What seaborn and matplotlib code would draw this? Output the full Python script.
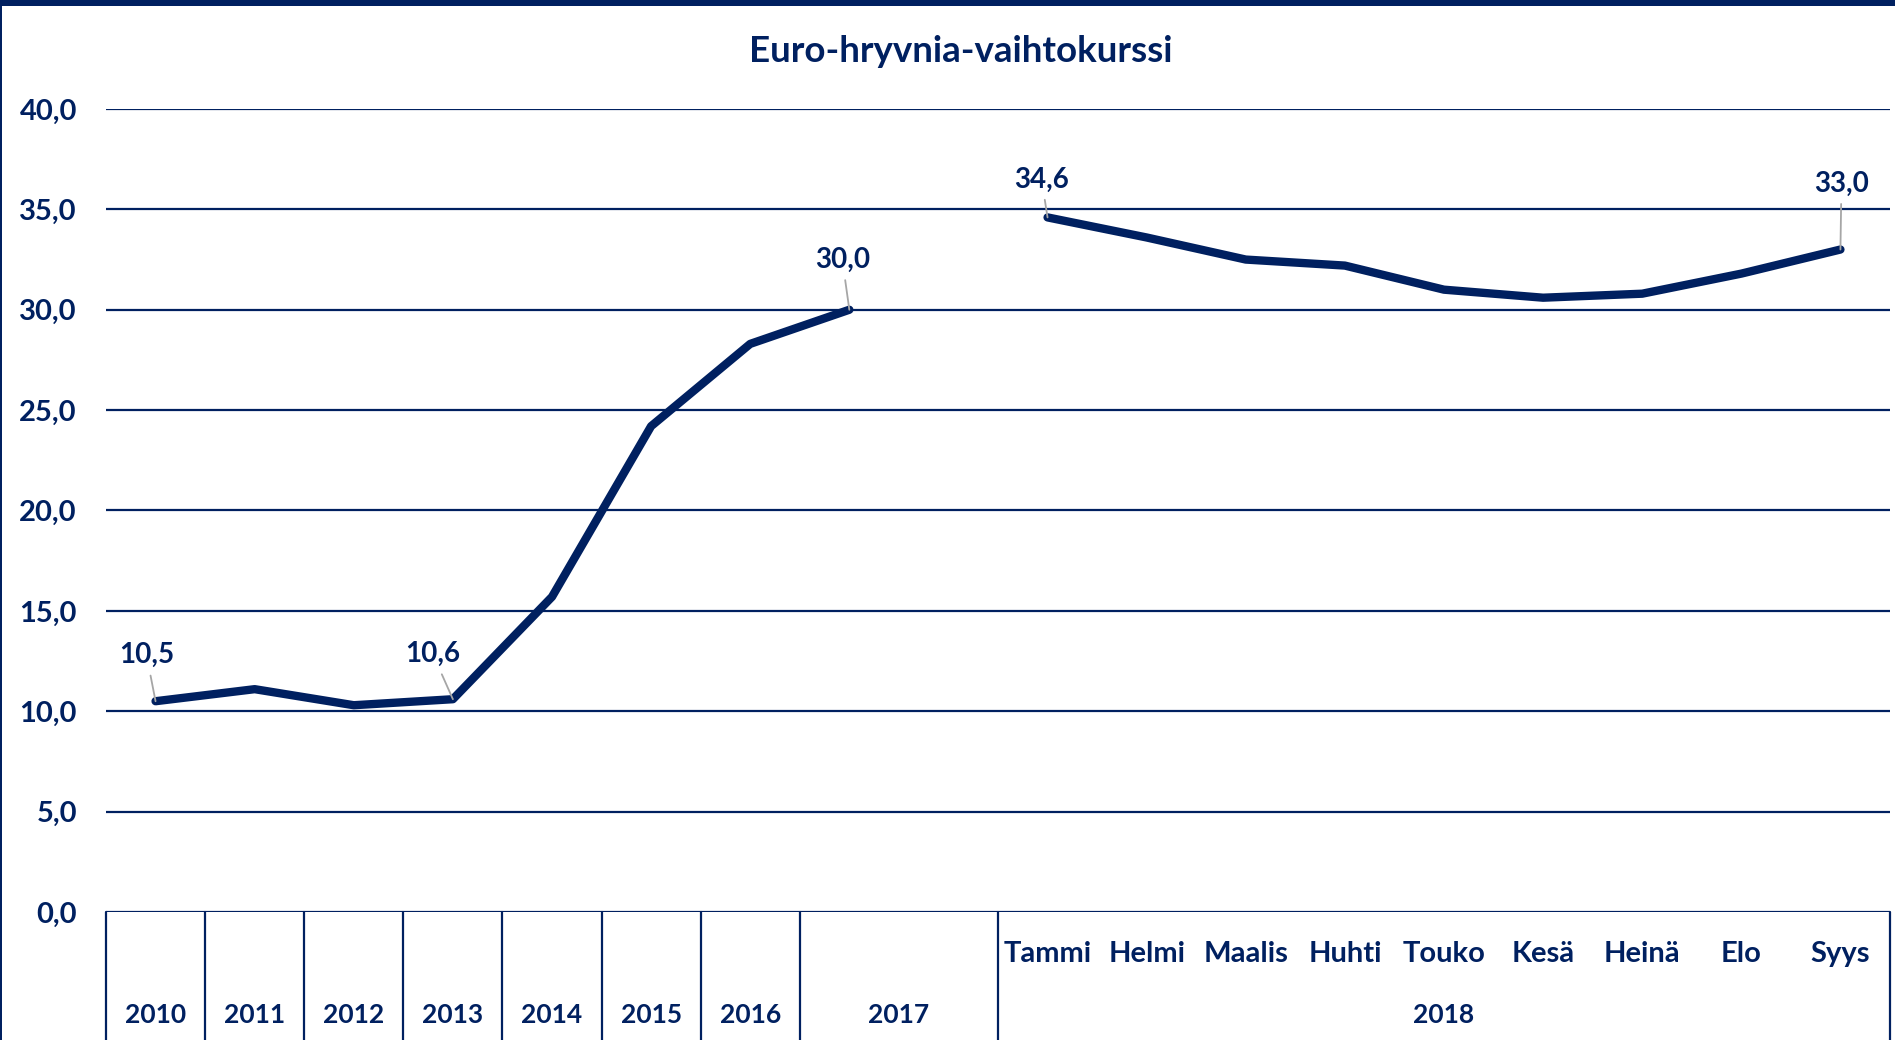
import matplotlib
matplotlib.use("Agg")
import matplotlib.pyplot as plt
import matplotlib.transforms as mtransforms
import seaborn as sns
import pandas as pd
import numpy as np

# data
years = ["2010", "2011", "2012", "2013", "2014", "2015", "2016", "2017"]
year_rate = [10.5, 11.1, 10.3, 10.6, 15.7, 24.2, 28.3, 30.0]
months = ["Tammi", "Helmi", "Maalis", "Huhti", "Touko", "Kesä", "Heinä", "Elo", "Syys"]
month_rate = [34.6, 33.6, 32.5, 32.2, 31.0, 30.6, 30.8, 31.8, 33.0]
month_year = "2018"
labelled = {"2010": "10,5", "2013": "10,6", "2017": "30,0", "Tammi": "34,6", "Syys": "33,0"}
label_offsets = {"2010": (-9, 46), "2013": (-20, 45), "2017": (-7, 50), "Tammi": (-6, 38), "Syys": (1, 66)}

navy = "#002060"
gray = "#A6A6A6"

# positions: years fill slots 0..7, slot 8 belongs to 2017 cell, months 9..17
year_pos = list(range(len(years)))
month_pos = [len(years) + 1 + i for i in range(len(months))]
n_slots = month_pos[-1] + 1

df = pd.DataFrame({
    "pos": year_pos + month_pos,
    "kurssi": year_rate + month_rate,
    "jakso": ["vuosi"] * len(years) + ["kuukausi"] * len(months),
    "nimi": years + months,
})

sns.set_style("white")
plt.rcParams["font.family"] = ["Lato", "DejaVu Sans"]
plt.rcParams["font.weight"] = "bold"

fig = plt.figure(figsize=(18.95, 10.40), dpi=100)
ax = fig.add_axes([106 / 1895, 128 / 1040, 1784 / 1895, 803 / 1040])

sns.lineplot(data=df, x="pos", y="kurssi", units="jakso", estimator=None,
             color=navy, linewidth=6, solid_capstyle="round", ax=ax, zorder=3)

ax.set_xlim(-0.5, n_slots - 0.5)
ax.set_ylim(0, 40)
ax.set_yticks(np.arange(0, 41, 5))
ax.set_yticklabels([f"{v:.1f}".replace(".", ",") for v in np.arange(0, 41, 5)],
                   fontsize=21, color=navy, fontweight="bold")
ax.tick_params(axis="y", length=0, pad=21)
ax.set_xticks([])
ax.set_xlabel("")
ax.set_ylabel("")
for s in ax.spines.values():
    s.set_visible(False)
for v in np.arange(0, 41, 5):
    ax.axhline(v, color=navy, lw=1.6, zorder=1)

# category table below the axis
trans = mtransforms.blended_transform_factory(ax.transData, ax.transAxes)
low = -128 / 803
seps = [p - 0.5 for p in year_pos] + [month_pos[0] - 0.5, n_slots - 0.5]
for s in seps:
    ax.plot([s, s], [0, low], transform=trans, color=navy, lw=1.6, clip_on=False)

row_year = -103 / 803
row_month = -42 / 803
for p, y in zip(year_pos, years):
    x = p + 0.5 if y == years[-1] else p
    ax.text(x, row_year, y, transform=trans, ha="center", va="center",
            fontsize=19, color=navy, fontweight="bold")
for p, m in zip(month_pos, months):
    ax.text(p, row_month, m, transform=trans, ha="center", va="center",
            fontsize=21, color=navy, fontweight="bold")
ax.text((month_pos[0] + month_pos[-1]) / 2, row_year, month_year, transform=trans,
        ha="center", va="center", fontsize=19, color=navy, fontweight="bold")

# data labels
for _, r in df.iterrows():
    if r["nimi"] in labelled:
        dx, dy = label_offsets[r["nimi"]]
        ax.annotate(labelled[r["nimi"]], xy=(r["pos"], r["kurssi"]),
                    xytext=(dx, dy), textcoords="offset pixels",
                    ha="center", va="center", fontsize=20, color=navy,
                    fontweight="bold", zorder=4,
                    arrowprops=dict(arrowstyle="-", color=gray, lw=1.3,
                                    shrinkA=3, shrinkB=0))

fig.text(961 / 1895, 1 - 51 / 1040, "Euro-hryvnia-vaihtokurssi", ha="center",
         va="center", fontsize=26.5, color=navy, fontweight="bold")

# frame decorations
fig.add_artist(plt.Rectangle((0, 1 - 6 / 1040), 1, 6 / 1040, transform=fig.transFigure,
                             color=navy, lw=0))
fig.add_artist(plt.Rectangle((0, 0), 2 / 1895, 1, transform=fig.transFigure,
                             color=navy, lw=0))

fig.savefig("out.png", dpi=100)
